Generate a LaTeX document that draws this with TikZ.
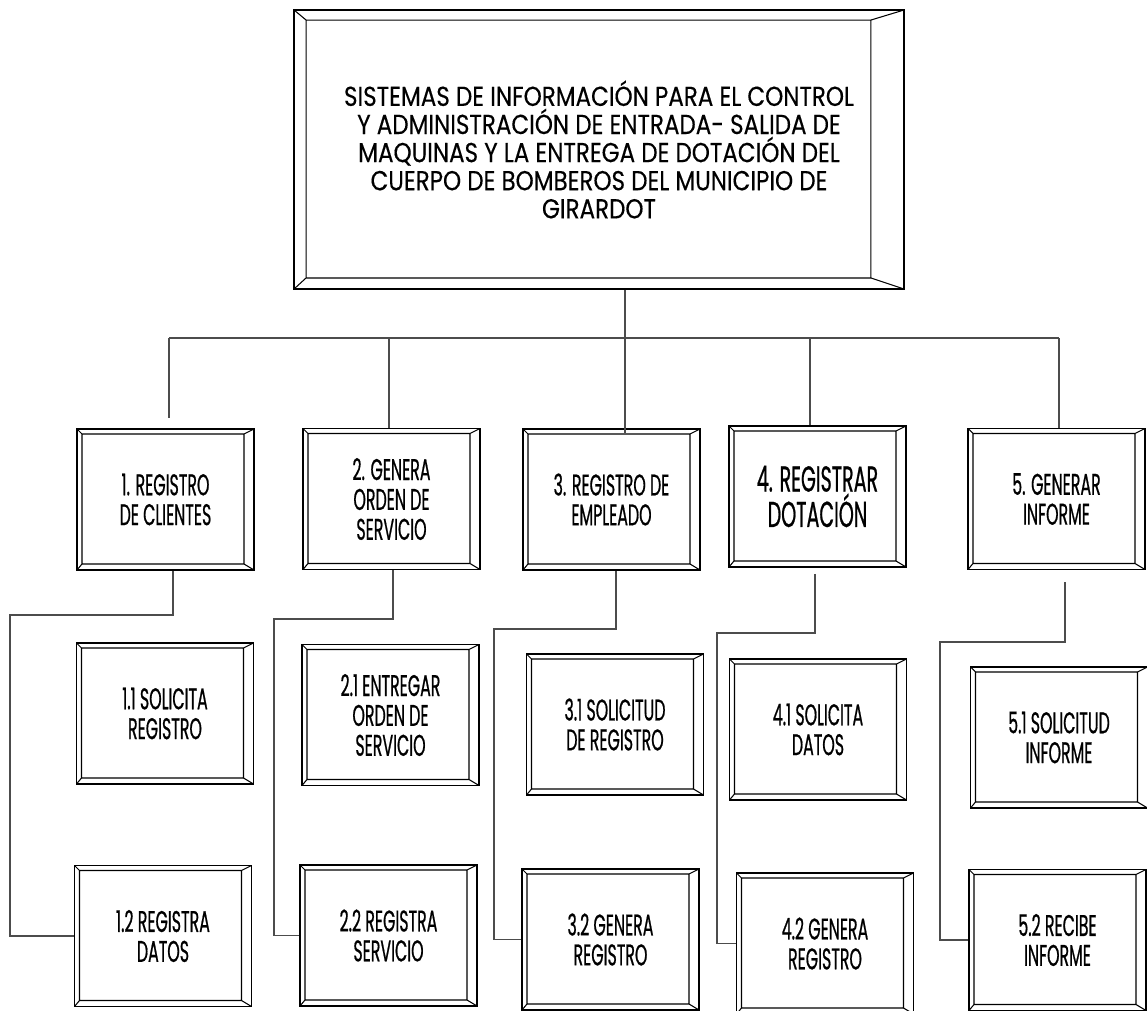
\documentclass[tikz,border=0pt]{standalone}
\usepackage{fontspec}
\setmainfont{Poppins}
\newfontfamily\letratitulo[FakeStretch=0.84, FakeBold=0.3]{Poppins}
\newfontfamily\letracaja[FakeStretch=0.53, FakeBold=0.6]{Poppins}
\usetikzlibrary{positioning}

\tikzset{
    marco/.style n args={4}{draw,
        line width=1.1pt,
        align=center,
        inner sep=0,
        path picture={
            \draw[line width=0.6pt]
                ([shift={(#1,#2)}]path picture bounding box.north west) coordinate (ino)
                -- ([shift={(-#3,#2)}]path picture bounding box.north east) coordinate (ine)
                -- ([shift={(-#3,-#4)}]path picture bounding box.south east) coordinate (ise)
                -- ([shift={(#1,-#4)}]path picture bounding box.south west) coordinate (iso)
                -- cycle
                (path picture bounding box.north west) -- (ino)
                (path picture bounding box.north east) -- (ine)
                (path picture bounding box.south east) -- (ise)
                (path picture bounding box.south west) -- (iso);
        }},
    caja/.style={marco={5}{5}{10}{6},
        minimum width=3.54cm,
        minimum height=2.82cm,
        font=\letracaja\fontsize{17}{17}\selectfont},
    linea/.style={draw=black!70, line width=0.6pt}
}

\begin{document}
\begin{tikzpicture}[x=0.02cm, y=-0.02cm]

\useasboundingbox[fill=white] (0,0) rectangle (1147,1011);

\node[marco={12}{10}{33}{11},
    minimum width=12.2cm,
    minimum height=5.58cm,
    font=\letratitulo\fontsize{15.6}{16}\selectfont] (sistema) at (599,149.5)
    {SISTEMAS DE INFORMACIÓN PARA EL CONTROL\\
     Y ADMINISTRACIÓN DE ENTRADA- SALIDA DE\\
     MAQUINAS Y LA ENTREGA DE DOTACIÓN DEL\\
     CUERPO DE BOMBEROS DEL MUNICIPIO DE\\
     GIRARDOT};

% primer nivel
\node[caja] (reg_cli) at (165.5,499.5) {1. REGISTRO\\ DE CLIENTES};
\node[caja] (gen_ord) at (391.5,499) {2. GENERA\\ ORDEN DE\\ SERVICIO};
\node[caja] (reg_emp) at (611.5,499.5) {3. REGISTRO DE\\ EMPLEADO};
\node[caja,
    font=\letracaja\fontsize{20.5}{19}\selectfont] (reg_dot) at (817.5,496.5) {4. REGISTRAR\\ DOTACIÓN};
\node[caja] (gen_inf) at (1056.5,499) {5. GENERAR\\ INFORME};

% segundo nivel
\node[caja] (sol_reg) at (165,713.5) {1.1 SOLICITA\\ REGISTRO};
\node[caja] (ent_ord) at (390.5,715) {2.1 ENTREGAR\\ ORDEN DE\\ SERVICIO};
\node[caja] (sol_emp) at (615,724.5) {3.1 SOLICITUD\\ DE REGISTRO};
\node[caja] (sol_dat) at (818,729.5) {4.1 SOLICITA\\ DATOS};
\node[caja] (sol_inf) at (1059,737.5) {5.1 SOLICITUD\\ INFORME};

% tercer nivel
\node[caja] (reg_dat) at (163,936) {1.2 REGISTRA\\ DATOS};
\node[caja] (reg_serv) at (388.5,935.5) {2.2 REGISTRA\\ SERVICIO};
\node[caja] (gen_reg) at (610.5,939.5) {3.2 GENERA\\ REGISTRO};
\node[caja] (gen_dot) at (825,943.5) {4.2 GENERA\\ REGISTRO};
\node[caja] (rec_inf) at (1057.5,940) {5.2 RECIBE\\ INFORME};

% barra horizontal
\coordinate (bus1) at (169,338);
\coordinate (bus2) at (389,338);
\coordinate (bus3) at (625,338);
\coordinate (bus4) at (810,338);
\coordinate (bus5) at (1059,338);

% codos de cada columna
\coordinate (d1) at (173,615);   \coordinate (k1) at (10,615);
\coordinate (d2) at (393,619);   \coordinate (k2) at (274,619);
\coordinate (d3) at (616,629);   \coordinate (k3) at (494,629);
\coordinate (d4) at (815,633);   \coordinate (k4) at (717,633);
\coordinate (d5) at (1065,642);  \coordinate (k5) at (940,642);

\draw[linea] (sistema.south -| bus3) -- (bus3)
    (bus1) -- (bus5);
\draw[linea, shorten >=0.2cm] (bus1) -- (reg_cli.north -| bus1);
\draw[linea] (bus2) -- (gen_ord.north -| bus2);
\draw[linea, shorten >=-0.1cm] (bus3) -- (reg_emp.north -| bus3);
\draw[linea] (bus4) -- (reg_dot.north -| bus4);
\draw[linea] (bus5) -- (gen_inf.north -| bus5);

\draw[linea] (reg_cli.south -| d1) -- (d1) -- (k1) |- (reg_dat.west);
\draw[linea] (gen_ord.south -| d2) -- (d2) -- (k2) |- (reg_serv.west);
\draw[linea] (reg_emp.south -| d3) -- (d3) -- (k3) |- (gen_reg.west);
\draw[linea, shorten <=0.12cm] (reg_dot.south -| d4) -- (d4) -- (k4) |- (gen_dot.west);
\draw[linea, shorten <=0.24cm] (gen_inf.south -| d5) -- (d5) -- (k5) |- (rec_inf.west);

\end{tikzpicture}
\end{document}
